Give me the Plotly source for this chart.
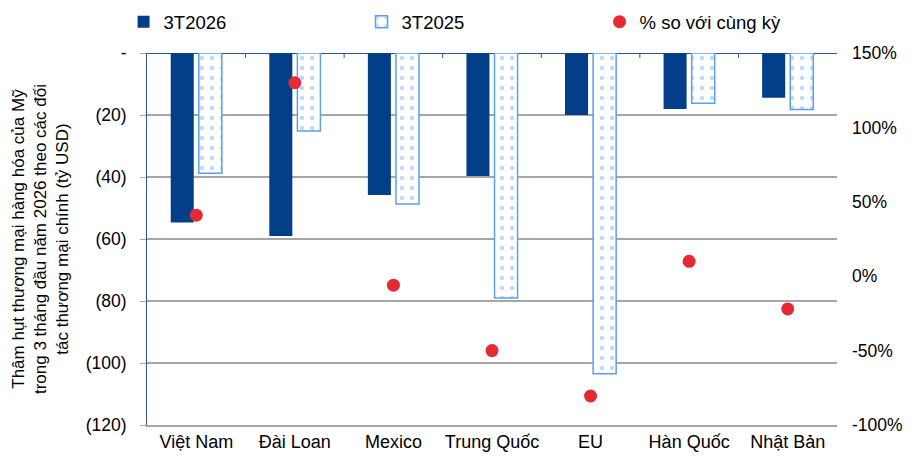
import plotly.graph_objects as go

# Trade partners and goods-trade deficit with the US, Q1 (billion USD, negative = deficit)
partners = ["Việt Nam", "Đài Loan", "Mexico", "Trung Quốc", "EU", "Hàn Quốc", "Nhật Bản"]
deficit_2026 = [-54.7, -59.0, -45.8, -39.7, -20.0, -18.1, -14.4]
deficit_2025 = [-38.8, -25.2, -48.7, -79.0, -103.5, -16.2, -18.2]
yoy_pct = [41, 130, -6, -50, -80.5, 10, -22]

left_ticks = [0, -20, -40, -60, -80, -100, -120]
left_labels = ["-", "(20)", "(40)", "(60)", "(80)", "(100)", "(120)"]
right_ticks = [150, 100, 50, 0, -50, -100]
right_labels = ["150%", "100%", "50%", "0%", "-50%", "-100%"]

FONT = "Liberation Sans, Arial, sans-serif"
DARK = "#033f88"
LIGHT_LINE = "#5a9ff0"
LIGHT_DOT = "#7db2f5"
RED = "#e62a33"
GRID = "#a6a6a6"
AXIS_BLUE = "#2f5597"

fig = go.Figure()

fig.add_trace(go.Bar(
    x=partners, y=deficit_2026, name="3T2026",
    marker=dict(color=DARK, line=dict(width=0)),
    yaxis="y",
))
fig.add_trace(go.Bar(
    x=partners, y=deficit_2025, name="3T2025",
    marker=dict(
        color="white",
        line=dict(color=LIGHT_LINE, width=1.5),
        pattern=dict(shape=".", fgcolor=LIGHT_DOT, bgcolor="white",
                     size=10, solidity=0.15, fillmode="overlay"),
    ),
    yaxis="y",
))
fig.add_trace(go.Scatter(
    x=partners, y=yoy_pct, name="% so với cùng kỳ",
    mode="markers",
    marker=dict(color=RED, size=13),
    yaxis="y2",
))

# small category separators hanging from the zero line
shapes = []
for i in range(len(partners) - 1):
    shapes.append(dict(type="line", xref="x", yref="y",
                       x0=i + 0.5, x1=i + 0.5, y0=0, y1=-1.6,
                       line=dict(color=AXIS_BLUE, width=1)))

fig.update_layout(
    width=912, height=456,
    margin=dict(l=147, r=75, t=53, b=31, autoexpand=False),
    paper_bgcolor="white", plot_bgcolor="white",
    font=dict(family=FONT, size=17, color="#000000"),
    barmode="group", bargap=0.43, bargroupgap=0.18,
    showlegend=True,
    legend=dict(
        orientation="h", x=-0.034, xanchor="left", y=1.083, yanchor="middle",
        font=dict(size=18.5), itemwidth=30,
        entrywidth=193, entrywidthmode="pixels",
        bgcolor="rgba(0,0,0,0)",
    ),
    xaxis=dict(
        showline=True, linecolor=GRID, linewidth=1.5,
        showgrid=False, ticks="", zeroline=False,
        tickfont=dict(size=18), ticklabelstandoff=0, automargin=False,
    ),
    yaxis=dict(
        range=[-120, 0], tickvals=left_ticks, ticktext=left_labels,
        showgrid=True, gridcolor=GRID, gridwidth=1.5,
        zeroline=True, zerolinecolor=AXIS_BLUE, zerolinewidth=1,
        showline=True, linecolor=AXIS_BLUE, linewidth=1,
        ticks="outside", ticklen=6, tickcolor=GRID,
        tickfont=dict(size=17.5), ticklabelstandoff=10, automargin=False,
    ),
    yaxis2=dict(
        overlaying="y", side="right", range=[-100, 150],
        tickvals=right_ticks, ticktext=right_labels,
        showgrid=False, zeroline=False, showline=False,
        ticks="", tickfont=dict(size=17.5), ticklabelstandoff=14,
        automargin=False,
    ),
    shapes=shapes,
    annotations=[dict(
        text="Thâm hụt thương mại hàng hóa của Mỹ<br>trong 3 tháng đầu năm 2026 theo các đối<br>tác thương mại chính (tỷ USD)",
        xref="paper", yref="paper", x=-0.155, y=0.5,
        xanchor="center", yanchor="middle", textangle=-90,
        showarrow=False, font=dict(size=17, family=FONT),
    )],
)

fig.write_html("out.html")
